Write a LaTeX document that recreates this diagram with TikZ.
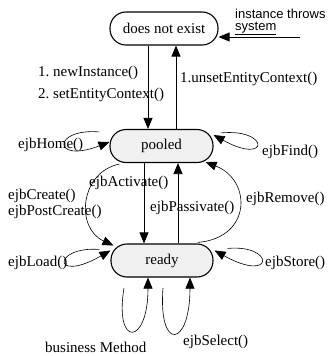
\documentclass[tikz,border=0pt]{standalone}
\usepackage{fontspec}
\setmainfont{Liberation Serif}
\newfontfamily\sansf{Liberation Sans}
\usetikzlibrary{arrows.meta}
\begin{document}
\begin{tikzpicture}[x=1pt,y=-1pt,
  state/.style={draw,line width=1.1pt,rectangle,rounded corners=16pt,minimum height=33pt,inner sep=0pt,font=\fontsize{15}{17}\selectfont},
  lbl/.style={anchor=west,inner sep=0pt,font=\fontsize{15}{17}\selectfont},
  slbl/.style={anchor=west,inner sep=0pt,font=\sansf\fontsize{13}{15}\selectfont},
  arr/.style={line width=0.8pt,-{Triangle[length=11pt,width=9pt]}},
  loop/.style={line width=0.6pt,-{Triangle[length=11pt,width=9pt]}}]
\useasboundingbox (0,0) rectangle (332,356);
% states
\node[state,minimum width=108pt] (dne) at (164,28.5) {does not exist};
\node[state,minimum width=103pt,fill=gray!12] (pooled) at (161.5,146) {pooled};
\node[state,minimum width=102pt,fill=gray!12] (ready) at (162,260.5) {ready};
% helper coordinates
\coordinate (xa) at (148,0);
\coordinate (xb) at (176,0);
\coordinate (xc) at (144,0);
\coordinate (xd) at (178,0);
\coordinate (xe) at (148,0);
\coordinate (xf) at (190,0);
\coordinate (sysend) at (300,37);
% main transitions
\draw[arr] (dne.south -| xa) -- (pooled.north -| xa);
\draw[arr] (pooled.north -| xb) -- (dne.south -| xb);
\draw[arr] (pooled.south -| xc) -- (ready.north -| xc);
\draw[arr] (ready.north -| xd) -- (pooled.south -| xd);
\draw[arr] (sysend) -- (dne.east |- sysend);
% curves between pooled and ready
\draw[loop] (pooled.south west) ++(10,1) .. controls (80,172) and (75,228) .. ([xshift=3pt,yshift=-2pt]ready.north west);
\draw[loop] (ready.north east) ++(-16,-1) .. controls (252,238) and (252,180) .. ([xshift=-8pt,yshift=1pt]pooled.south east);
% self loops
\draw[loop] (pooled.north west) ++(-10,3) .. controls (52,128) and (52,164) .. ([yshift=4pt]pooled.west);
\draw[loop] (pooled.north east) ++(7,4) .. controls (270,128) and (270,166) .. ([yshift=11pt]pooled.east);
\draw[loop] (ready.north west) ++(-11,6) .. controls (52,246) and (52,284) .. ([yshift=10pt]ready.west);
\draw[loop] (ready.north east) ++(14,5) .. controls (275,244) and (275,284) .. ([xshift=1pt,yshift=10pt]ready.east);
\draw[loop] (124,288) .. controls (114,348) and (148,346) .. (ready.south -| xe);
\draw[loop] (163,288) .. controls (158,352) and (190,348) .. (ready.south -| xf);
% labels
\node[lbl] (l1) at (38,73) {1.~newInstance()};
\node[lbl] (l2) at (38,95) {2.~setEntityContext()};
\node[lbl] (l3) at (180,79) {1.unsetEntityContext()};
\node[slbl] (l4) at (235,14) {instance throws};
\node[slbl] (l5) at (235,28.5) {\underline{system}};
\node[lbl] (l6) at (18,145) {ejbHome()};
\node[lbl] (l7) at (262,152) {ejbFind()};
\node[lbl] (l8) at (89,183) {ejbActivate()};
\node[lbl] (l9) at (150,208) {ejbPassivate()};
\node[lbl] (l10) at (8,196) {ejbCreate()};
\node[lbl] (l11) at (8,212) {ejbPostCreate()};
\node[lbl] (l12) at (246,199) {ejbRemove()};
\node[lbl] (l13) at (8,263) {ejbLoad()};
\node[lbl] (l14) at (265,263) {ejbStore()};
\node[lbl] (l15) at (45,347) {business Method};
\node[lbl] (l16) at (183,342) {ejbSelect()};
\end{tikzpicture}
\end{document}
